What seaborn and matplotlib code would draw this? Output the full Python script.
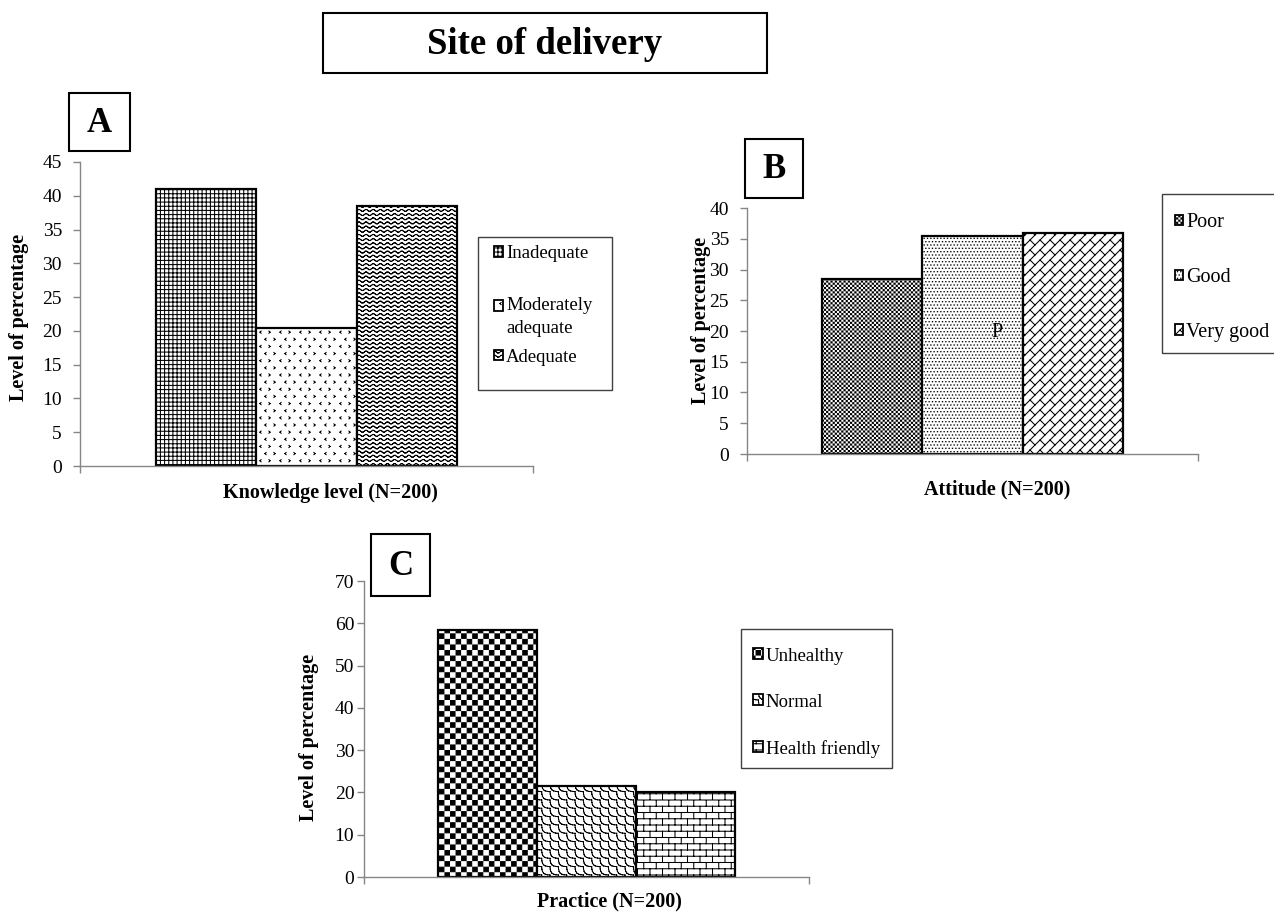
import warnings
from functools import lru_cache

import numpy as np
import pandas as pd
import matplotlib
matplotlib.use("Agg")
import matplotlib.pyplot as plt
import matplotlib.hatch as mhatch
from matplotlib.path import Path
from matplotlib.patches import Rectangle
import seaborn as sns

warnings.filterwarnings("ignore")

# ---------------- data ----------------
knowledge_levels = ["Inadequate", "Moderately\nadequate", "Adequate"]
knowledge_pct = [41.0, 20.5, 38.5]

attitude_levels = ["Poor", "Good", "Very good"]
attitude_pct = [28.5, 35.5, 36.0]

practice_levels = ["Unhealthy", "Normal", "Health friendly"]
practice_pct = [58.5, 21.5, 20.0]

knowledge_title = "Knowledge level (N=200)"
attitude_title = "Attitude (N=200)"
practice_title = "Practice (N=200)"
y_title = "Level of percentage"
figure_title = "Site of delivery"


# ---------------- custom fill patterns ----------------
def _seg_path(segs):
    segs = np.asarray(segs, float).reshape(-1, 2, 2)
    verts = segs.reshape(-1, 2)
    codes = np.tile(np.array([Path.MOVETO, Path.LINETO], dtype=Path.code_type), len(segs))
    return verts, codes


def _poly_path(polys):
    verts, codes = [], []
    for p in polys:
        p = np.asarray(p, float)
        verts.append(np.vstack([p, p[:1]]))
        c = np.full(len(p) + 1, Path.LINETO, dtype=Path.code_type)
        c[0] = Path.MOVETO
        c[-1] = Path.CLOSEPOLY
        codes.append(c)
    return np.vstack(verts), np.concatenate(codes)


def _square(x, y, r):
    return [(x - r, y - r), (x + r, y - r), (x + r, y + r), (x - r, y + r)]


@lru_cache(None)
def _waves(rows=24, periods=14, amp=0.010, steps=6):
    segs = []
    xs = np.linspace(0, 1, periods * steps + 1)
    for r in range(rows):
        y0 = (r + 0.5) / rows
        ys = y0 + amp * np.sin(2 * np.pi * periods * xs)
        for i in range(len(xs) - 1):
            segs.append(((xs[i], ys[i]), (xs[i + 1], ys[i + 1])))
    return _seg_path(segs)


@lru_cache(None)
def _chevrons(cols=10, rows=14, size=0.011):
    segs = []
    for j in range(-1, rows + 1):
        y = (j + 0.5) / rows
        for i in range(-1, cols + 1):
            x = (i + 0.5 + 0.5 * (j % 2)) / cols
            s = size if (i + j) % 2 == 0 else -size
            segs.append(((x + s, y + size), (x, y)))
            segs.append(((x, y), (x + s, y - size)))
    return _seg_path(segs)


@lru_cache(None)
def _checker(n, inset):
    c = 1.0 / n
    polys = []
    for i in range(n):
        for j in range(n):
            if (i + j) % 2 == 0:
                x0, y0 = i * c + inset, j * c + inset
                x1, y1 = (i + 1) * c - inset, (j + 1) * c - inset
                polys.append([(x0, y0), (x1, y0), (x1, y1), (x0, y1)])
    return _poly_path(polys)


@lru_cache(None)
def _dots(n=30, r=0.0015):
    polys = []
    for j in range(-1, n + 1):
        for i in range(-1, n + 1):
            x = (i + 0.25 + 0.5 * (j % 2)) / n
            y = (j + 0.5) / n
            polys.append(_square(x, y, r))
    return _poly_path(polys)


@lru_cache(None)
def _diag_bricks(m=10, p=5):
    d, L = 1.0 / m, 1.0 / p
    segs = []
    for k in range(-m - 2, m + 3):
        v = k * d
        u0, u1 = -1.0, 3.0
        segs.append((((u0 + v) / 2, (u0 - v) / 2), ((u1 + v) / 2, (u1 - v) / 2)))
        for j in range(-p - 2, 3 * p + 3):
            u = j * L + (k % 2) * L / 2
            segs.append((((u + v) / 2, (u - v) / 2), ((u + v + d) / 2, (u - v - d) / 2)))
    return _seg_path(segs)


@lru_cache(None)
def _scales(m=12, p=6, bulge=0.55, steps=6):
    d, L = 1.0 / m, 1.0 / p
    segs = []
    ts = np.linspace(0, 1, steps + 1)
    for k in range(-m - 2, 2 * m + 3):
        u0 = k * d
        for j in range(-p - 2, p + 3):
            v0 = j * L + (k % 2) * L / 2
            vs = v0 + ts * L
            us = u0 - bulge * d * np.sin(np.pi * ts)
            xs, ys = (us + vs) / 2, (us - vs) / 2
            for i in range(steps):
                segs.append(((xs[i], ys[i]), (xs[i + 1], ys[i + 1])))
    return _seg_path(segs)


@lru_cache(None)
def _bricks(rows=16, cols=8):
    h, w = 1.0 / rows, 1.0 / cols
    segs = []
    for j in range(rows + 1):
        segs.append(((-0.1, j * h), (1.1, j * h)))
    for j in range(rows):
        for i in range(-1, cols + 1):
            x = i * w + (j % 2) * w / 2
            segs.append(((x, j * h), (x, (j + 1) * h)))
    return _seg_path(segs)


HATCH_LW_PT = 0.75
_INSET = HATCH_LW_PT / 72 / 2  # half stroke width in hatch units

_PATTERNS = {
    "w": lambda: _waves(),
    "v": lambda: _chevrons(),
    "c": lambda: _checker(18, _INSET),
    "k": lambda: _checker(46, _INSET),
    "d": lambda: _dots(),
    "r": lambda: _diag_bricks(),
    "s": lambda: _scales(),
    "b": lambda: _bricks(),
}


def _make_hatch_class(key):
    class _Pattern(mhatch.HatchPatternBase):
        def __init__(self, hatch, density):
            self.num_vertices = 0
            if hatch and key in hatch:
                self._v, self._c = _PATTERNS[key]()
                self.num_vertices = len(self._v)

        def set_vertices_and_codes(self, vertices, codes):
            vertices[:] = self._v
            codes[:] = self._c

    return _Pattern


for _key in _PATTERNS:
    mhatch._hatch_types.append(_make_hatch_class(_key))

knowledge_hatch = ["++++", "v", "w"]
attitude_hatch = ["k", "d", "r"]
practice_hatch = ["c", "s", "b"]

# ---------------- figure ----------------
sns.set_theme(style="white")
plt.rcParams["font.family"] = ["Liberation Serif", "DejaVu Serif"]
plt.rcParams["hatch.linewidth"] = HATCH_LW_PT
plt.rcParams["hatch.color"] = "black"

W, H = 1274, 913
fig = plt.figure(figsize=(W / 100, H / 100), dpi=100)
fig.patch.set_facecolor("white")


def fx(x):
    return x / W


def fy(y):
    return 1 - y / H


def add_axes_px(left, top, right, bottom):
    return fig.add_axes([fx(left), fy(bottom), (right - left) / W, (bottom - top) / H])


def box_px(x0, y0, x1, y1, lw=1.3, ec="black"):
    fig.add_artist(Rectangle((fx(x0), fy(y1)), (x1 - x0) / W, (y1 - y0) / H,
                             transform=fig.transFigure, fill=False, lw=lw, ec=ec, zorder=5))


AXIS_GREY = "#868686"


def draw_panel(rect, levels, values, hatches, ymax, ystep, xlabel, xlab_xy, ylab_xy,
               tick_pad, leg_anchor, leg_fs, leg_handle, leg_spacing, leg_box):
    ax = add_axes_px(*rect)
    df = pd.DataFrame({"group": ["all"] * len(levels), "level": levels, "pct": values})
    sns.barplot(data=df, x="group", y="pct", hue="level", hue_order=levels,
                palette={lv: "white" for lv in levels}, saturation=1,
                edgecolor="black", linewidth=1.6, width=0.8, errorbar=None,
                legend=False, ax=ax)
    for bar, h in zip(ax.patches, hatches):
        bar.set_hatch(h)
        bar.set_zorder(2)

    ax.set_xlim(-0.6, 0.6)
    ax.set_ylim(0, ymax)
    ax.set_yticks(np.arange(0, ymax + 1, ystep))
    ax.set_xticks([-0.6, 0.6])
    ax.set_xticklabels([])
    ax.grid(False)
    for side in ("top", "right"):
        ax.spines[side].set_visible(False)
    for side in ("left", "bottom"):
        ax.spines[side].set_color(AXIS_GREY)
        ax.spines[side].set_linewidth(1.0)
    ax.tick_params(axis="y", left=True, direction="out", length=5, width=1,
                   color=AXIS_GREY, labelsize=14, labelcolor="black", pad=tick_pad)
    ax.tick_params(axis="x", bottom=True, direction="out", length=5, width=1,
                   color=AXIS_GREY)
    ax.set_facecolor("none")

    ax.set_xlabel(xlabel, fontsize=14.5, fontweight="bold", color="black")
    ax.xaxis.set_label_coords(*xlab_xy)
    ax.set_ylabel(y_title, fontsize=14.5, fontweight="bold", color="black")
    ax.yaxis.set_label_coords(*ylab_xy)

    handles = [Rectangle((0, 0), 1, 1, facecolor="white", edgecolor="black", lw=1.3, hatch=h)
               for h in hatches]
    leg = ax.legend(handles, levels, loc="center left",
                    bbox_to_anchor=(fx(leg_anchor[0]), fy(leg_anchor[1])),
                    bbox_transform=fig.transFigure, frameon=False, fontsize=leg_fs,
                    handlelength=leg_handle, handleheight=leg_handle, handletextpad=0.15,
                    labelspacing=leg_spacing, borderpad=0, borderaxespad=0)
    for t in leg.get_texts():
        t.set_color("black")
        if "\n" in t.get_text():
            t.set_linespacing(1.5)
            t.set_y(-11.5)
    box_px(*leg_box, lw=1.0, ec="#404040")
    return ax


# A: knowledge
draw_panel(rect=(80, 162, 533, 466), levels=knowledge_levels, values=knowledge_pct,
           hatches=knowledge_hatch, ymax=45, ystep=5, xlabel=knowledge_title,
           xlab_xy=(0.552, -0.055), ylab_xy=(-0.1126, 0.488), tick_pad=8,
           leg_anchor=(494, 305.5), leg_fs=13.5, leg_handle=0.5, leg_spacing=1.23,
           leg_box=(478, 237, 612, 390))

# B: attitude
axB = draw_panel(rect=(747, 208, 1198, 454), levels=attitude_levels, values=attitude_pct,
                 hatches=attitude_hatch, ymax=40, ystep=5, xlabel=attitude_title,
                 xlab_xy=(0.554, -0.105), ylab_xy=(-0.0798, 0.541), tick_pad=8,
                 leg_anchor=(1175, 277.5), leg_fs=14.5, leg_handle=0.42, leg_spacing=1.77,
                 leg_box=(1162, 194, 1300, 353))
axB.text(0.554, 0.492, "P", transform=axB.transAxes, ha="center", va="center",
         fontsize=14.5, color="black", zorder=6)

# C: practice
draw_panel(rect=(364, 581, 809, 877), levels=practice_levels, values=practice_pct,
           hatches=practice_hatch, ymax=70, ystep=10, xlabel=practice_title,
           xlab_xy=(0.551, -0.05), ylab_xy=(-0.101, 0.471), tick_pad=2,
           leg_anchor=(753, 702.5), leg_fs=13.5, leg_handle=0.53, leg_spacing=1.55,
           leg_box=(741, 629, 892, 768))

# Title and panel tags
box_px(323, 13, 767, 73, lw=1.5)
fig.text(fx(545), fy(44), figure_title, ha="center", va="center",
         fontsize=26.5, fontweight="bold", color="black")

for tag, (x0, y0, x1, y1) in {"A": (69, 93, 130, 151),
                              "B": (745, 139, 803, 198),
                              "C": (371, 534, 430, 596)}.items():
    box_px(x0, y0, x1, y1, lw=1.5)
    fig.text(fx((x0 + x1) / 2), fy((y0 + y1) / 2 + 1), tag, ha="center", va="center",
             fontsize=25, fontweight="bold", color="black")

fig.savefig("out.png", dpi=100, facecolor="white")
